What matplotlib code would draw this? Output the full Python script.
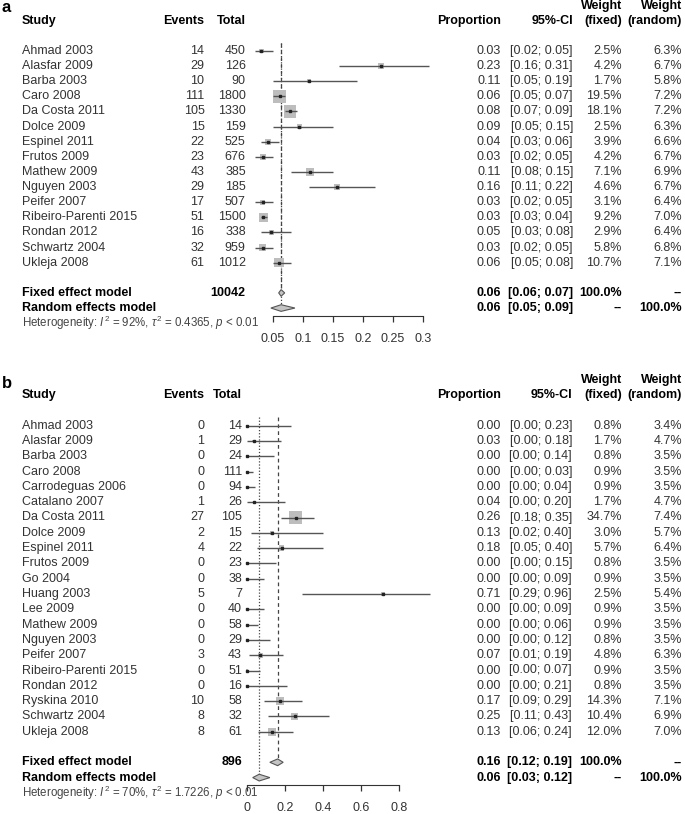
import numpy as np
import matplotlib
matplotlib.use("Agg")
import matplotlib.pyplot as plt
from matplotlib.transforms import blended_transform_factory

plt.rcParams['font.family'] = ['Liberation Sans', 'DejaVu Sans']
plt.rcParams['mathtext.fontset'] = 'custom'
plt.rcParams['mathtext.rm'] = 'Liberation Sans'
plt.rcParams['mathtext.it'] = 'Liberation Sans:italic'

# panel a
studies_a = ["Ahmad 2003", "Alasfar 2009", "Barba 2003", "Caro 2008", "Da Costa 2011",
             "Dolce 2009", "Espinel 2011", "Frutos 2009", "Mathew 2009", "Nguyen 2003",
             "Peifer 2007", "Ribeiro-Parenti 2015", "Rondan 2012", "Schwartz 2004", "Ukleja 2008"]
events_a = [14, 29, 10, 111, 105, 15, 22, 23, 43, 29, 17, 51, 16, 32, 61]
total_a = [450, 126, 90, 1800, 1330, 159, 525, 676, 385, 185, 507, 1500, 338, 959, 1012]
prop_a = [0.03, 0.23, 0.11, 0.06, 0.08, 0.09, 0.04, 0.03, 0.11, 0.16, 0.03, 0.03, 0.05, 0.03, 0.06]
lo_a = [0.02, 0.16, 0.05, 0.05, 0.07, 0.05, 0.03, 0.02, 0.08, 0.11, 0.02, 0.03, 0.03, 0.02, 0.05]
hi_a = [0.05, 0.31, 0.19, 0.07, 0.09, 0.15, 0.06, 0.05, 0.15, 0.22, 0.05, 0.04, 0.08, 0.05, 0.08]
wfix_a = [2.5, 4.2, 1.7, 19.5, 18.1, 2.5, 3.9, 4.2, 7.1, 4.6, 3.1, 9.2, 2.9, 5.8, 10.7]
wran_a = [6.3, 6.7, 5.8, 7.2, 7.2, 6.3, 6.6, 6.7, 6.9, 6.7, 6.4, 7.0, 6.4, 6.8, 7.1]
fixed_a = (0.064, 0.06, 0.07)
random_a = (0.064, 0.047, 0.087)
n_a = 10042
het_a = r"Heterogeneity: $I^2$ = 92%, $\tau^2$ = 0.4365, $p$ < 0.01"
ticks_a = [0.05, 0.1, 0.15, 0.2, 0.25, 0.3]
ticklabels_a = ["0.05", "0.1", "0.15", "0.2", "0.25", "0.3"]

# panel b
studies_b = ["Ahmad 2003", "Alasfar 2009", "Barba 2003", "Caro 2008", "Carrodeguas 2006",
             "Catalano 2007", "Da Costa 2011", "Dolce 2009", "Espinel 2011", "Frutos 2009",
             "Go 2004", "Huang 2003", "Lee 2009", "Mathew 2009", "Nguyen 2003", "Peifer 2007",
             "Ribeiro-Parenti 2015", "Rondan 2012", "Ryskina 2010", "Schwartz 2004", "Ukleja 2008"]
events_b = [0, 1, 0, 0, 0, 1, 27, 2, 4, 0, 0, 5, 0, 0, 0, 3, 0, 0, 10, 8, 8]
total_b = [14, 29, 24, 111, 94, 26, 105, 15, 22, 23, 38, 7, 40, 58, 29, 43, 51, 16, 58, 32, 61]
prop_b = [0.00, 0.03, 0.00, 0.00, 0.00, 0.04, 0.26, 0.13, 0.18, 0.00, 0.00, 0.71, 0.00, 0.00,
          0.00, 0.07, 0.00, 0.00, 0.17, 0.25, 0.13]
lo_b = [0.00, 0.00, 0.00, 0.00, 0.00, 0.00, 0.18, 0.02, 0.05, 0.00, 0.00, 0.29, 0.00, 0.00,
        0.00, 0.01, 0.00, 0.00, 0.09, 0.11, 0.06]
hi_b = [0.23, 0.18, 0.14, 0.03, 0.04, 0.20, 0.35, 0.40, 0.40, 0.15, 0.09, 0.96, 0.09, 0.06,
        0.12, 0.19, 0.07, 0.21, 0.29, 0.43, 0.24]
wfix_b = [0.8, 1.7, 0.8, 0.9, 0.9, 1.7, 34.7, 3.0, 5.7, 0.8, 0.9, 2.5, 0.9, 0.9, 0.8, 4.8,
          0.9, 0.8, 14.3, 10.4, 12.0]
wran_b = [3.4, 4.7, 3.5, 3.5, 3.5, 4.7, 7.4, 5.7, 6.4, 3.5, 3.5, 5.4, 3.5, 3.5, 3.5, 6.3,
          3.5, 3.5, 7.1, 6.9, 7.0]
fixed_b = (0.161, 0.12, 0.19)
random_b = (0.064, 0.03, 0.12)
n_b = 896
het_b = r"Heterogeneity: $I^2$ = 70%, $\tau^2$ = 1.7226, $p$ < 0.01"
ticks_b = [0, 0.2, 0.4, 0.6, 0.8]
ticklabels_b = ["0", "0.2", "0.4", "0.6", "0.8"]

W, H = 685, 814
fig = plt.figure(figsize=(W / 100, H / 100), dpi=100)

TXT = '#333333'
FS = 9


def make_axes(top, bottom, row0, drow, v0, px0, ppu):
    # axes spanning the full width, scaled so values land on the reference pixels
    ax = fig.add_axes([0, 1 - bottom / H, 1, (bottom - top) / H])
    ax.set_xlim(v0 + (0 - px0) / ppu, v0 + (W - px0) / ppu)
    ax.set_ylim((bottom - row0) / drow, (top - row0) / drow)
    for s in ['top', 'left', 'right']:
        ax.spines[s].set_visible(False)
    ax.set_yticks([])
    ax.patch.set_visible(False)
    return ax


def panel(ax, label, label_row, studies, events, totals, props, lo, hi, wfix, wran,
          fixed, random, n_total, het, ticks, ticklabels, total_x, ci_x):
    tr = blended_transform_factory(ax.transAxes, ax.transData)
    n = len(studies)
    rows = np.arange(n)
    frow, rrow = n + 1, n + 2

    def t(px, row, s, ha='left', bold=False, color=TXT, size=FS):
        ax.text(px / W, row, s, transform=tr, ha=ha, va='center', fontsize=size,
                fontweight='bold' if bold else 'normal', color=color)

    ax.text(2 / W, label_row, label, transform=tr, fontsize=12, fontweight='bold',
            va='baseline')

    # headers
    t(21.7, -2, "Study", bold=True, color='black')
    t(204.5, -2, "Events", ha='right', bold=True, color='black')
    t(total_x, -2, "Total", ha='right', bold=True, color='black')
    t(501, -2, "Proportion", ha='right', bold=True, color='black')
    t(ci_x, -2, "95%-CI", ha='right', bold=True, color='black')
    t(622, -3, "Weight", ha='right', bold=True, color='black')
    t(622, -2, "(fixed)", ha='right', bold=True, color='black')
    t(682, -3, "Weight", ha='right', bold=True, color='black')
    t(682, -2, "(random)", ha='right', bold=True, color='black')

    for i in range(n):
        t(21.7, rows[i], studies[i])
        t(204.5, rows[i], str(events[i]), ha='right')
        t(total_x, rows[i], str(totals[i]), ha='right')
        t(501, rows[i], f"{props[i]:.2f}", ha='right')
        t(ci_x, rows[i], f"[{lo[i]:.2f}; {hi[i]:.2f}]", ha='right')
        t(622, rows[i], f"{wfix[i]:.1f}%", ha='right')
        t(682, rows[i], f"{wran[i]:.1f}%", ha='right')

    t(21.7, frow, "Fixed effect model", bold=True, color='black')
    t(total_x, frow, str(n_total), ha='right', bold=True, color='black')
    t(501, frow, f"{fixed[0]:.2f}", ha='right', bold=True, color='black')
    t(ci_x, frow, f"[{fixed[1]:.2f}; {fixed[2]:.2f}]", ha='right', bold=True, color='black')
    t(622, frow, "100.0%", ha='right', bold=True, color='black')
    t(682, frow, "--", ha='right', bold=True, color='black')
    t(21.7, rrow, "Random effects model", bold=True, color='black')
    t(501, rrow, f"{random[0]:.2f}", ha='right', bold=True, color='black')
    t(ci_x, rrow, f"[{random[1]:.2f}; {random[2]:.2f}]", ha='right', bold=True, color='black')
    t(622, rrow, "--", ha='right', bold=True, color='black')
    t(682, rrow, "100.0%", ha='right', bold=True, color='black')
    t(21.7, n + 3, het, size=8.3, color='#444444')

    # reference lines
    ax.plot([fixed[0], fixed[0]], [-0.55, frow], color='#444444', lw=0.9,
            linestyle=(0, (3, 2.5)), zorder=1)
    ax.plot([random[0], random[0]], [-0.55, rrow], color='#444444', lw=0.9,
            linestyle=(0, (1, 1.5)), zorder=1)

    # study boxes, CIs and points
    est = np.array(events) / np.array(totals)
    side = 13 * np.sqrt(np.array(wfix) / max(wfix))
    ax.scatter(est, rows, s=(side * 0.72) ** 2, marker='s', color='#bdbdbd',
               edgecolors='none', zorder=2, clip_on=False)
    ax.hlines(rows, lo, hi, color='#555555', lw=1.0, zorder=3, clip_on=False)
    ax.plot(est, rows, 's', color='#222222', markersize=2, zorder=4, clip_on=False)

    # diamonds
    for (e, l, h), r in [(fixed, frow), (random, rrow)]:
        ax.fill([l, e, h, e], [r, r - 0.22, r, r + 0.22], facecolor='#c4c4c4',
                edgecolor='#555555', lw=0.8, zorder=5, clip_on=False)

    # axis
    ax.spines['bottom'].set_position(('data', n + 2.5))
    ax.spines['bottom'].set_bounds(ticks[0], ticks[-1])
    ax.spines['bottom'].set_color('#333333')
    ax.set_xticks(ticks)
    ax.set_xticklabels(ticklabels)
    ax.tick_params(axis='x', direction='out', length=4.3, width=0.9, color='#333333',
                   labelsize=FS, labelcolor=TXT, pad=8)


ax_a = make_axes(0, 360, 51.0, 15.12, 0.05, 272.7, 600.0)
panel(ax_a, "a", -2.58, studies_a, events_a, total_a, prop_a, lo_a, hi_a, wfix_a, wran_a,
      fixed_a, random_a, n_a, het_a, ticks_a, ticklabels_a, 245.7, 573)

ax_b = make_axes(360, 814, 425.7, 15.3, 0.0, 247.0, 190.4)
panel(ax_b, "b", -2.46, studies_b, events_b, total_b, prop_b, lo_b, hi_b, wfix_b, wran_b,
      fixed_b, random_b, n_b, het_b, ticks_b, ticklabels_b, 242.0, 572)

fig.savefig("out.png", dpi=100)
